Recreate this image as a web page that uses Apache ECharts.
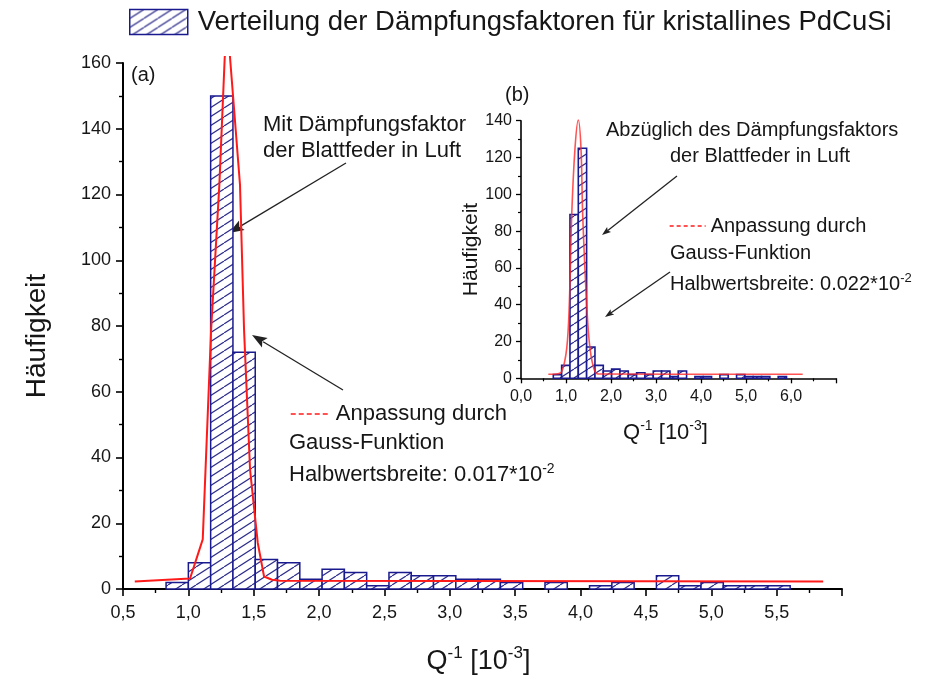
<!DOCTYPE html>
<html>
<head>
<meta charset="utf-8">
<script src="https://cdn.jsdelivr.net/npm/echarts@6/dist/echarts.min.js"></script>
<style>
  html, body { margin: 0; padding: 0; background: #fff; }
  #chart { width: 935px; height: 686px; }
</style>
</head>
<body>
<div id="chart"></div>
<script>
// Histogram of damping factors Q^-1 (in 1e-3) for crystalline PdCuSi,
// with Gaussian fits; inset (b) after subtracting the leaf-spring damping.

// (a) main histogram: 28 equal bins
const mainBinStart = 0.8295;
const mainBinWidth = 0.1705;
const mainCounts = [2, 8, 150, 72, 9, 8, 3, 6, 5, 1, 5, 4, 4, 3, 3, 2, 0, 2, 0, 1, 2, 0, 4, 1, 2, 1, 1, 1];

// (a) Gaussian fit curve
const mainFitX = [0.59, 1.013, 1.110, 1.174, 1.237, 1.278, 1.300, 1.319, 1.395, 1.426, 1.472, 1.531, 1.579, 1.640, 1.702, 5.856];
const mainFitY = [2.3, 3.2, 15.1, 78.8, 122.9, 161.5, 173.0, 161.5, 122.9, 78.8, 36.2, 14.0, 3.8, 2.8, 2.5, 2.3];

// (b) inset histogram
const insetBinStart = 0.718;
const insetBinWidth = 0.1851;
const insetCounts = [2, 7, 89, 125, 17, 7, 4, 5, 4, 2, 3, 2, 4, 4, 1, 4, 0, 1, 1, 0, 2, 0, 2, 1, 1, 1, 0, 1];

// (b) Gaussian fit curve
const insetFitX = [0.607, 0.778, 0.904, 1.016, 1.073, 1.127, 1.200, 1.273, 1.333, 1.371, 1.460, 1.533, 1.644, 1.756, 6.26];
const insetFitY = [2.2, 2.3, 3.6, 16.3, 40.0, 88.7, 125.0, 140.4, 125.0, 88.7, 40.0, 16.3, 3.6, 2.3, 2.2];

const seriesName = 'Verteilung der Dämpfungsfaktoren für kristallines PdCuSi';
const fitName = 'Anpassung durch';

const FONT = '"Liberation Sans", Arial, Helvetica, sans-serif';
const NAVY = '#1a1a8f';
const RED = '#ff1a1a';
const INK = '#161616';

// diagonal hatch fill
function makeHatch(w, h, color, lw) {
  const c = document.createElement('canvas');
  c.width = w; c.height = h;
  const g = c.getContext('2d');
  g.fillStyle = '#ffffff';
  g.fillRect(0, 0, w, h);
  g.strokeStyle = color;
  g.lineWidth = lw;
  for (const dx of [-w, 0, w]) {
    g.beginPath();
    g.moveTo(dx, h);
    g.lineTo(dx + w, 0);
    g.stroke();
  }
  return { type: 'pattern', image: c, repeat: 'repeat' };
}
const hatch = makeHatch(14, 9, '#2e2e8c', 1.2);

function toBins(start, width, counts) {
  return counts.map((c, i) => [start + i * width, start + (i + 1) * width, c]);
}
function toPoints(xs, ys) {
  return xs.map((x, i) => [x, ys[i]]);
}

function binRenderer(lineWidth) {
  return function (params, api) {
    const v = api.value(2);
    if (!v) return null;
    const a = api.coord([api.value(0), 0]);
    const b = api.coord([api.value(1), v]);
    return {
      type: 'rect',
      shape: { x: a[0], y: b[1], width: b[0] - a[0], height: a[1] - b[1] },
      style: { fill: hatch, stroke: NAVY, lineWidth: lineWidth }
    };
  };
}

const commaFmt = v => v.toFixed(1).replace('.', ',');

const qRich = size => ({
  b: { fontSize: size, fontFamily: FONT, color: INK, lineHeight: size + 6 },
  s: { fontSize: Math.round(size * 0.62), fontFamily: FONT, color: INK, verticalAlign: 'top', lineHeight: size + 6 }
});
const qName = '{b|Q}{s|-1}{b| [10}{s|-3}{b|]}';

function arrow(x1, y1, x2, y2, len, half) {
  const dx = x2 - x1, dy = y2 - y1;
  const d = Math.hypot(dx, dy);
  const ux = dx / d, uy = dy / d;
  const bx = x2 - ux * len, by = y2 - uy * len;
  return {
    type: 'group',
    silent: true,
    children: [
      { type: 'line', shape: { x1: x1, y1: y1, x2: bx + ux * 2, y2: by + uy * 2 }, style: { stroke: '#222', lineWidth: 1.3 } },
      { type: 'polygon', shape: { points: [[x2, y2], [bx - uy * half, by + ux * half], [bx + ux * len * 0.2, by + uy * len * 0.2], [bx + uy * half, by - ux * half]] }, style: { fill: '#222' } }
    ]
  };
}

function label(x, y, text, size, rich) {
  return {
    type: 'text', x: x, y: y, silent: true,
    style: { text: text, font: size + 'px ' + FONT, fill: INK, verticalAlign: 'middle', align: 'left', rich: rich }
  };
}
const supRich = size => ({
  s: { fontSize: Math.round(size * 0.65), fontFamily: FONT, fill: INK, verticalAlign: 'top', lineHeight: size + 4 },
  n: { fontSize: size, fontFamily: FONT, fill: INK, lineHeight: size + 4 }
});

const chart = echarts.init(document.getElementById('chart'), null, { renderer: 'canvas' });

const option = {
  animation: false,
  backgroundColor: '#ffffff',
  textStyle: { fontFamily: FONT },
  grid: [
    { left: 123, top: 63, width: 719, height: 526, outerBoundsMode: 'none' },
    { left: 123, top: 57, width: 719, height: 532, outerBoundsMode: 'none' },
    { left: 521, top: 120.7, width: 315, height: 257.6, outerBoundsMode: 'none' }
  ],
  xAxis: [
    {
      gridIndex: 0, type: 'value', min: 0.5, max: 6, interval: 0.5,
      axisLine: { show: true, onZero: false, lineStyle: { color: '#000', width: 2 } },
      axisTick: { show: true, length: 7, lineStyle: { color: '#000', width: 1.6 } },
      minorTick: { show: true, splitNumber: 2, length: 4, lineStyle: { color: '#000', width: 1.4 } },
      splitLine: { show: false },
      axisLabel: { fontSize: 18, color: INK, margin: 15, formatter: commaFmt, showMaxLabel: false, fontFamily: FONT },
      name: qName, nameLocation: 'middle', nameGap: 56,
      nameTextStyle: { rich: qRich(27), padding: [0, 8, 0, 0] }
    },
    { gridIndex: 1, type: 'value', min: 0.5, max: 6, show: false },
    {
      gridIndex: 2, type: 'value', min: 0, max: 7, interval: 1,
      axisLine: { show: true, onZero: false, lineStyle: { color: '#000', width: 1.6 } },
      axisTick: { show: true, length: 5, lineStyle: { color: '#000', width: 1.3 } },
      minorTick: { show: true, splitNumber: 2, length: 3, lineStyle: { color: '#000', width: 1.2 } },
      splitLine: { show: false },
      axisLabel: { fontSize: 16, color: INK, margin: 10, formatter: commaFmt, showMaxLabel: false, fontFamily: FONT },
      name: qName, nameLocation: 'middle', nameGap: 41,
      nameTextStyle: { rich: qRich(22), padding: [0, 26, 0, 0] }
    }
  ],
  yAxis: [
    {
      gridIndex: 0, type: 'value', min: 0, max: 160, interval: 20,
      axisLine: { show: true, onZero: false, lineStyle: { color: '#000', width: 2 } },
      axisTick: { show: true, length: 7, lineStyle: { color: '#000', width: 1.6 } },
      minorTick: { show: true, splitNumber: 2, length: 4, lineStyle: { color: '#000', width: 1.4 } },
      splitLine: { show: false },
      axisLabel: { fontSize: 18, color: INK, margin: 12, fontFamily: FONT },
      name: 'Häufigkeit', nameLocation: 'middle', nameGap: 72, nameRotate: 90,
      nameTextStyle: { fontSize: 28, color: INK, fontFamily: FONT, padding: [0, 20, 0, 0] }
    },
    { gridIndex: 1, type: 'value', min: 0, max: 161.8, show: false },
    {
      gridIndex: 2, type: 'value', min: 0, max: 140, interval: 20,
      axisLine: { show: true, onZero: false, lineStyle: { color: '#000', width: 1.6 } },
      axisTick: { show: true, length: 5, lineStyle: { color: '#000', width: 1.3 } },
      minorTick: { show: true, splitNumber: 2, length: 3, lineStyle: { color: '#000', width: 1.2 } },
      splitLine: { show: false },
      axisLabel: { fontSize: 16, color: INK, margin: 9, fontFamily: FONT },
      name: 'Häufigkeit', nameLocation: 'middle', nameGap: 29, nameRotate: 90,
      nameTextStyle: { fontSize: 21, color: INK, fontFamily: FONT }
    }
  ],
  legend: [
    {
      data: [seriesName], left: 124, top: 3, itemWidth: 58, itemHeight: 25, icon: 'rect',
      selectedMode: false,
      itemStyle: { borderColor: NAVY, borderWidth: 1.5 },
      textStyle: { fontSize: 27.5, color: INK, fontFamily: FONT, padding: [0, 0, 0, 5] }
    },
    {
      data: [fitName], left: 285, top: 398, itemWidth: 40, itemHeight: 20,
      selectedMode: false,
      lineStyle: { type: [5, 3], width: 1.5, color: RED },
      itemStyle: { opacity: 0 },
      textStyle: { fontSize: 22, color: INK, fontFamily: FONT }
    },
    {
      data: [fitName], left: 664, top: 211, itemWidth: 36, itemHeight: 18,
      selectedMode: false,
      lineStyle: { type: [4, 3], width: 1.3, color: RED },
      itemStyle: { opacity: 0 },
      textStyle: { fontSize: 20, color: INK, fontFamily: FONT }
    }
  ],
  series: [
    {
      type: 'custom', name: seriesName, xAxisIndex: 0, yAxisIndex: 0,
      renderItem: binRenderer(1.5),
      encode: { x: [0, 1], y: 2 },
      itemStyle: { color: hatch, borderColor: NAVY, borderWidth: 1.5 },
      data: toBins(mainBinStart, mainBinWidth, mainCounts),
      silent: true, z: 2
    },
    {
      type: 'line', name: fitName, xAxisIndex: 1, yAxisIndex: 1,
      data: toPoints(mainFitX, mainFitY),
      symbol: 'none', showSymbol: false, smooth: false, clip: true,
      lineStyle: { color: RED, width: 2 }, itemStyle: { color: RED },
      silent: true, z: 5
    },
    {
      type: 'custom', name: 'Abzüglich des Dämpfungsfaktors der Blattfeder in Luft', xAxisIndex: 2, yAxisIndex: 2,
      renderItem: binRenderer(1.6),
      encode: { x: [0, 1], y: 2 },
      itemStyle: { color: hatch, borderColor: NAVY, borderWidth: 1.6 },
      data: toBins(insetBinStart, insetBinWidth, insetCounts),
      silent: true, z: 2
    },
    {
      type: 'line', name: fitName, xAxisIndex: 2, yAxisIndex: 2,
      data: toPoints(insetFitX, insetFitY),
      symbol: 'none', showSymbol: false, smooth: 0.35, clip: false,
      lineStyle: { color: 'rgba(255,40,40,0.8)', width: 1.6 }, itemStyle: { color: RED },
      silent: true, z: 5
    }
  ],
  graphic: [
    label(131, 75, '(a)', 20),
    label(263, 125, 'Mit Dämpfungsfaktor', 22),
    label(263, 151, 'der Blattfeder in Luft', 22),
    label(289, 443, 'Gauss-Funktion', 22),
    label(289, 475, '{n|Halbwertsbreite: 0.017*10}{s|-2}', 22, supRich(22)),
    arrow(346, 163, 229, 233, 15, 5.5),
    arrow(343, 390, 252, 335, 15, 5.5),
    label(505, 95, '(b)', 20),
    label(606, 130, 'Abzüglich des Dämpfungsfaktors', 20),
    label(670, 156, 'der Blattfeder in Luft', 20),
    label(670, 253, 'Gauss-Funktion', 20),
    label(670, 284, '{n|Halbwertsbreite: 0.022*10}{s|-2}', 20, supRich(20)),
    arrow(677, 176, 602, 235, 9, 3.2),
    arrow(670, 272, 605, 317, 9, 3.2)
  ]
};

chart.setOption(option);
</script>
</body>
</html>
